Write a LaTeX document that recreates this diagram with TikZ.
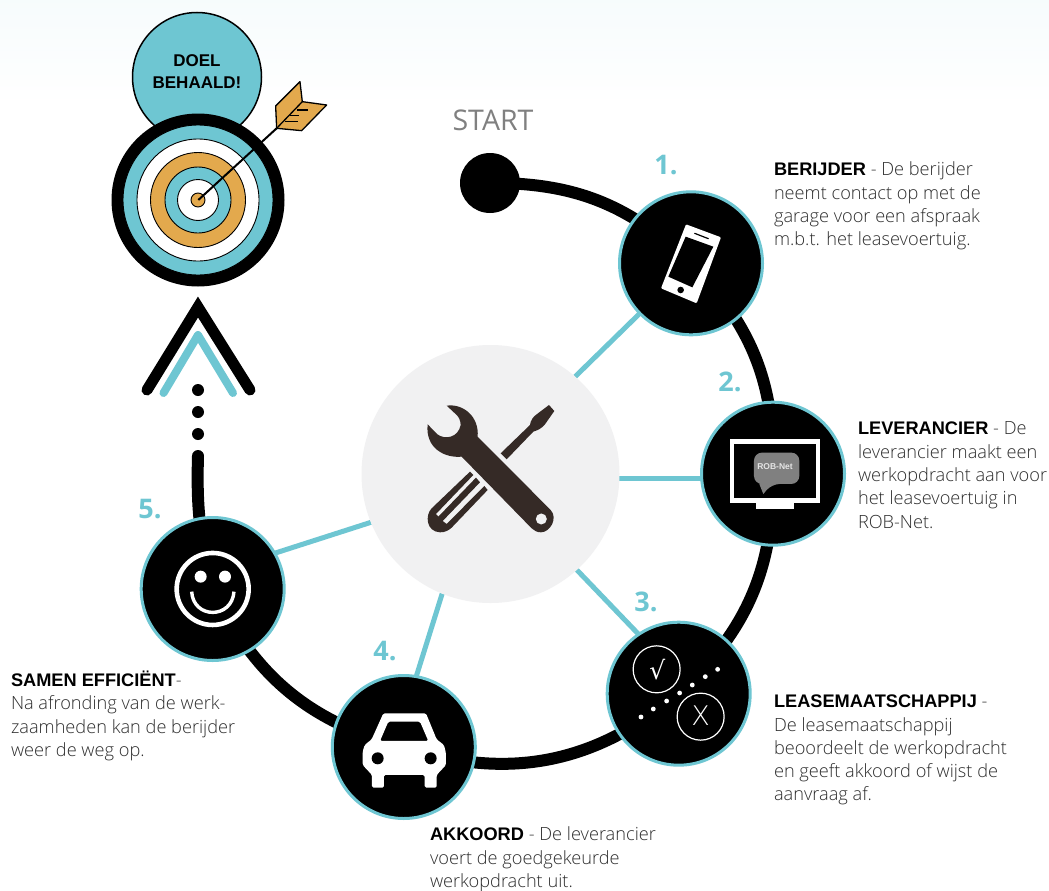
\documentclass[tikz,border=0pt]{standalone}
\usepackage{fontspec}
\setmainfont{Open Sans}[UprightFont=* Light,BoldFont=Liberation Sans Bold]
\newfontfamily\numfont{Open Sans}[UprightFont=* Bold]
\newfontfamily\startfont{Open Sans}
\newfontfamily\headfont{Liberation Sans}
\newfontfamily\symfont{DejaVu Sans}[UprightFont=* ExtraLight]
\newfontfamily\rootfont{DejaVu Sans}
\usetikzlibrary{backgrounds}
\definecolor{teal}{HTML}{6EC6D2}
\definecolor{gold}{HTML}{E3A94D}
\definecolor{hubgrey}{HTML}{F1F1F2}
\definecolor{tool}{HTML}{352A26}
\definecolor{bodytext}{HTML}{2E2E2E}
\newcommand{\lead}[1]{\textcolor{black}{\textbf{#1}}}
\pgfdeclarelayer{grad}
\pgfsetlayers{grad,background,main}
\tikzset{
  stepnode/.style={circle,fill=black,draw=teal,line width=3pt,inner sep=0pt,outer sep=0pt,minimum size=143pt},
  ringnode/.style={circle,draw=black,line width=0.9pt,inner sep=0pt,outer sep=0pt,minimum size=#1},
  track/.style={line width=12pt,black},
  spoke/.style={line width=5pt,teal},
  blurb/.style={anchor=north west,align=left,inner sep=0pt,outer sep=0pt,text=bodytext,font=\fontsize{18.2}{23.3}\selectfont},
  numlabel/.style={text=teal,inner sep=0pt,font=\numfont\fontsize{27}{27}\selectfont},
  zoomA/.style={shift={(100,0)},x=0.3333pt,y=-0.3333pt},
  zoomB/.style={shift={(600,180)},x=0.3333pt,y=-0.3333pt},
  zoomC/.style={shift={(320,610)},x=0.3333pt,y=-0.3333pt},
  zoomD/.style={shift={(130,300)},x=0.3333pt,y=-0.3333pt},
  zoomE/.style={shift={(350,345)},x=0.3333pt,y=-0.3333pt},
}
\begin{document}
\begin{tikzpicture}[x=1pt,y=-1pt]
\useasboundingbox (0,0) rectangle (1049,891);
\begin{pgfonlayer}{grad}
  \fill[white] (0,0) rectangle (1049,891);
  \shade[top color=teal!6,bottom color=white] (0,0) rectangle (1049,105);
\end{pgfonlayer}

% hub and step nodes
\node[circle,fill=hubgrey,inner sep=0pt,outer sep=0pt,minimum size=258pt] (hub) at (490.5,474) {};
\node[stepnode] (n1) at (691,263.3) {};
\node[stepnode] (n2) at (773,473.7) {};
\node[stepnode] (n3) at (678.7,693.7) {};
\node[stepnode] (n4) at (403.8,747) {};
\node[stepnode] (n5) at (212.7,589) {};
\node[circle,fill=black,inner sep=0pt,minimum size=60pt] (start) at (490,183) {};
\coordinate (trackend) at (198,456);

\begin{scope}[on background layer]
  \draw[spoke] (hub.49) -- (n1);
  \draw[spoke] (hub.-2) -- (n2.center |- hub.-2);
  \draw[spoke] (hub.-48.6) -- (n3.124);
  \draw[spoke] (hub.248) -- (n4.80);
  \draw[spoke] (hub.202) -- (n5.30);
  \draw[track] (start.center) to[bend left=22] (n1.center);
  \draw[track] (n1.center) to[bend left=23] (n2.center);
  \draw[track] (n2.center) to[bend left=24] (n3.center);
  \draw[track] (n3.center) to[bend left=29] (n4.center);
  \draw[track] (n4.center) to[bend left=25] (n5.center);
  \draw[track,line cap=round] (n5.center) to[bend left=8] (trackend);
\end{scope}

% arrow up
\node[circle,fill=black,inner sep=0pt,minimum size=12pt] (d1) at (198,434) {};
\node[circle,fill=black,inner sep=0pt,minimum size=12pt] (d2) at (198,412) {};
\node[circle,fill=black,inner sep=0pt,minimum size=12pt] (d3) at (198,390) {};
\draw[line width=11pt,line cap=round,line join=miter] (147,390) -- (198,307) -- (250,390);
\draw[teal,line width=8pt,line cap=round,line join=round] (163.5,393) -- (198,335) -- (233,393);

% goal
\node[circle,fill=teal,draw=black,line width=1.5pt,inner sep=0pt,minimum size=129pt] (goal) at (197,77) {};
\node[align=center,inner sep=0pt,font=\headfont\bfseries\fontsize{17}{22}\selectfont] (goaltext) at (197,72) {DOEL\\BEHAALD!};
\node[circle,fill=black,inner sep=0pt,minimum size=173pt] (tg0) at (198,200) {};
\node[ringnode=150pt,fill=teal] (tg1) at (198,200) {};
\node[ringnode=122pt,fill=white] (tg2) at (198,200) {};
\node[ringnode=95pt,fill=gold] (tg3) at (198,200) {};
\node[ringnode=66pt,fill=teal] (tg4) at (198,200) {};
\node[ringnode=41pt,fill=white] (tg5) at (198,200) {};
\node[ringnode=14pt,fill=gold] (tg6) at (198,200) {};
\begin{scope}[zoomA]
  \draw[line width=2pt] (295,600) -- (530,385);
  \draw[fill=gold,line width=1.3pt,line join=round] (527,318) -- (600,245) -- (607,305) -- (680,315) -- (605,392) -- (530,385) -- cycle;
  \draw[line width=1.3pt] (530,385) -- (607,305);
  \draw[line width=1.3pt] (555,365) -- (595,365) (570,347) -- (598,347) (590,330) -- (625,330);
\end{scope}

% phone
\begin{scope}[zoomB]
  \fill[white,rounded corners=1pt] (258,133) -- (363,172) -- (290,370) -- (183,325) -- cycle;
  \fill[black] (257,170) -- (340,200) -- (277,322) -- (205,290) -- cycle;
  \draw[black,line width=1.2pt,line cap=round] (284,160) -- (325,176);
  \fill[black] (242,330) circle[radius=3.3pt];
  % screen
  \fill[white] (390,778) rectangle (660,968);
  \fill[black] (403,792) rectangle (647,953);
  \fill[white] (468,968) rectangle (582,986);
  \fill[white!50!black,rounded corners=8pt] (462,818) -- (598,818) -- (598,912) -- (515,912) [sharp corners] -- (490,942) -- (478,912) [rounded corners=8pt] -- (462,912) -- cycle;
  \node[text=white!90!black,inner sep=0pt,font=\headfont\bfseries\fontsize{8.5}{8.5}\selectfont] (robnet) at (525,860) {ROB-Net};
\end{scope}

% wrench and screwdriver
\begin{scope}[zoomE]
  \fill[tool] (290,182) .. controls (340,175) and (388,215) .. (383,275) -- (602,495)
    .. controls (625,520) and (600,562) .. (573,562) .. controls (560,562) and (552,556) .. (545,550)
    -- (335,335) .. controls (285,340) and (225,310) .. (233,238) -- (262,268)
    .. controls (285,285) and (325,278) .. (332,240) .. controls (332,225) and (325,215) .. (320,210) -- cycle;
  \fill[hubgrey] (574,522) circle[radius=5.5pt];
  \fill[tool] (452,325) -- (540,240) .. controls (542,225) and (550,215) .. (560,208) -- (597,180) -- (613,198)
    -- (585,238) .. controls (575,250) and (565,255) .. (550,260) -- (470,343) -- cycle;
  \fill[tool] (360,380) -- (245,490) .. controls (225,510) and (228,560) .. (270,562) .. controls (285,562) and (295,557) .. (305,548) -- (413,435) -- (403,423) -- (290,537)  -- (278,528) -- (390,412) -- (378,398) -- (265,515) -- (258,507) -- (370,390) -- cycle;
\end{scope}

% check/cross and car
\begin{scope}[zoomC]
  \draw[white,line width=1.2pt] (1010,178) circle[radius=23.5pt];
  \draw[white,line width=1.2pt] (1142,320) circle[radius=23.5pt];
  \node[text=white,inner sep=0pt,font=\rootfont\fontsize{25}{25}\selectfont] (chk) at (1012,178) {√};
  \node[text=white,inner sep=0pt,font=\symfont\fontsize{27}{27}\selectfont] (crs) at (1142,318) {X};
  \foreach \px/\py in {963/321,1000/297,1040/273,1079/249,1117/225,1156/200,1193/178}
    \fill[white] (\px,\py) circle[radius=2.4pt];
  \fill[white,rounded corners=1.5pt,even odd rule] (190,310) -- (318,310) -- (350,388) -- (372,405) -- (378,430) -- (378,465) -- (350,495) -- (350,533) -- (314,533) -- (314,495) -- (192,495) -- (192,533) -- (156,533) -- (156,495) -- (128,465) -- (128,425) -- (134,405) -- (155,388) -- cycle
    (205,335) -- (300,335) -- (325,393) -- (180,393) -- cycle;
  \fill[black] (173,445) circle[radius=6pt] (332,445) circle[radius=6pt];
\end{scope}

% smiley
\begin{scope}[zoomD]
  \draw[white,line width=4.6pt] (248,867) circle[radius=36pt];
  \fill[white] (212,830) circle[radius=6pt] (285,830) circle[radius=6pt];
  \draw[white,line width=3.4pt] (185,875) .. controls (190,958) and (306,958) .. (312,875);
\end{scope}

% labels
\node[text=white!50!black,inner sep=0pt,font=\startfont\fontsize{28.5}{28.5}\selectfont] (startlabel) at (493,120) {START};
\node[numlabel] (l1) at (666,165) {1.};
\node[numlabel] (l2) at (730,382) {2.};
\node[numlabel] (l3) at (646,602) {3.};
\node[numlabel] (l4) at (385,651) {4.};
\node[numlabel] (l5) at (150,509) {5.};

\node[blurb] (t1) at (774,162) {\lead{BERIJDER} - De berijder\\neemt contact op met de\\garage voor een afspraak\\m.b.t. het leasevoertuig.};
\node[blurb] (t2) at (858,422) {\lead{LEVERANCIER} - De\\leverancier maakt een\\werkopdracht aan voor\\het leasevoertuig in\\ROB-Net.};
\node[blurb] (t3) at (774,695) {\lead{LEASEMAATSCHAPPIJ} -\\De leasemaatschappij\\beoordeelt de werkopdracht\\en geeft akkoord of wijst de\\aanvraag af.};
\node[blurb] (t4) at (430,827) {\lead{AKKOORD} - De leverancier\\voert de goedgekeurde\\werkopdracht uit.};
\node[blurb] (t5) at (11,671) {\lead{SAMEN EFFICIËNT}-\\Na afronding van de werk-\\zaamheden kan de berijder\\weer de weg op.};
\end{tikzpicture}
\end{document}
